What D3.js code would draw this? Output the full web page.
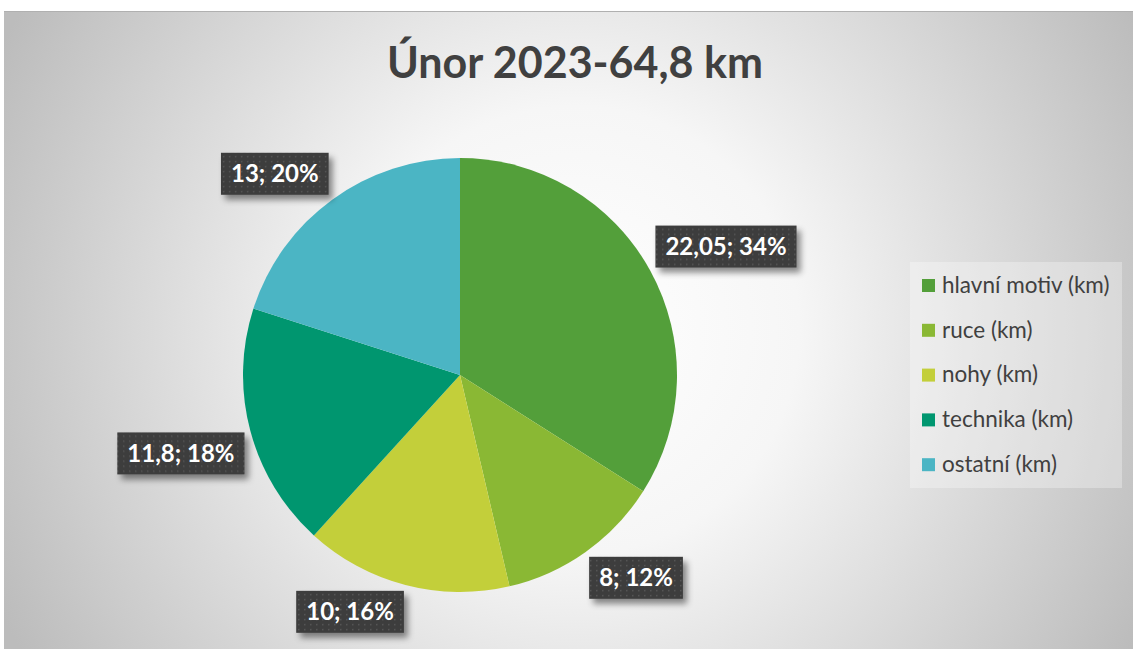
<!DOCTYPE html>
<html>
<head>
<meta charset="utf-8">
<script src="https://cdn.jsdelivr.net/npm/d3@7"></script>
<style>
  html, body { margin: 0; padding: 0; background: #fff; }
  svg { display: block; }
</style>
</head>
<body>
<svg id="chart" width="1133" height="649"></svg>
<script>
// data
const categories = ["hlavní motiv (km)", "ruce (km)", "nohy (km)", "technika (km)", "ostatní (km)"];
const values = [22.05, 8, 10, 11.8, 13];
const valueLabels = ["22,05", "8", "10", "11,8", "13"];
const percentLabels = ["34%", "12%", "16%", "18%", "20%"];
const colors = ["#539f3a", "#8ab834", "#c3cf3a", "#00966f", "#4bb5c4"];
const title = "Únor 2023-64,8 km";

const svg = d3.select("#chart");
const width = 1133, height = 649;
const font = "Lato, 'Open Sans', sans-serif";

const defs = svg.append("defs");
const bg = defs.append("radialGradient").attr("id", "bg")
  .attr("gradientUnits", "userSpaceOnUse")
  .attr("cx", 575).attr("cy", 330).attr("r", 640);
bg.append("stop").attr("offset", "0%").attr("stop-color", "#ffffff");
bg.append("stop").attr("offset", "35%").attr("stop-color", "#f6f6f6");
bg.append("stop").attr("offset", "100%").attr("stop-color", "#bcbcbc");

const pat = defs.append("pattern").attr("id", "dots")
  .attr("patternUnits", "userSpaceOnUse").attr("width", 6).attr("height", 5);
pat.append("rect").attr("width", 6).attr("height", 5).attr("fill", "#3c3c3c");
pat.append("rect").attr("x", 2).attr("y", 2).attr("width", 1.5).attr("height", 1.5).attr("fill", "#575757");

const sh = defs.append("filter").attr("id", "shadow")
  .attr("x", "-20%").attr("y", "-30%").attr("width", "150%").attr("height", "180%");
sh.append("feDropShadow").attr("dx", 4).attr("dy", 5).attr("stdDeviation", 3)
  .attr("flood-color", "#000").attr("flood-opacity", 0.45);

// plot area
svg.append("rect").attr("x", 4).attr("y", 11).attr("width", width - 4).attr("height", height - 11)
  .attr("fill", "url(#bg)");
svg.append("line").attr("x1", 4).attr("x2", width).attr("y1", 11.5).attr("y2", 11.5)
  .attr("stroke", "#b0b0b0");

svg.append("text").attr("x", 575).attr("y", 78)
  .attr("text-anchor", "middle")
  .attr("font-family", font)
  .attr("font-weight", "bold").attr("font-size", 43)
  .attr("fill", "#404040").text(title);

const cx = 460, cy = 375, r = 217;
const pie = d3.pie().sort(null).value(d => d)(values);
const arc = d3.arc().innerRadius(0).outerRadius(r);

const g = svg.append("g").attr("transform", `translate(${cx},${cy})`);
g.selectAll("path").data(pie).enter().append("path")
  .attr("d", arc)
  .attr("fill", (d, i) => colors[i]);

// labels, outside end: box corner sits just off the rim at mid-angle
const lbl = svg.append("g").selectAll("g").data(pie).enter().append("g");

lbl.each(function (d, i) {
  const el = d3.select(this);
  const t = el.append("text")
    .attr("text-anchor", "middle").attr("dy", "0.36em")
    .attr("font-family", font)
    .attr("font-weight", "bold").attr("font-size", 24)
    .attr("fill", "#fff").text(valueLabels[i] + "; " + percentLabels[i]);
  const bb = t.node().getBBox();
  const hw = bb.width / 2 + 10, hh = 21;
  el.insert("rect", "text")
    .attr("x", -hw).attr("y", -hh).attr("width", hw * 2).attr("height", hh * 2)
    .attr("fill", "url(#dots)").attr("filter", "url(#shadow)");
  const a = (d.startAngle + d.endAngle) / 2;
  const s = Math.sin(a), c = -Math.cos(a);
  const rr = r + 6;
  const x = cx + rr * s + hw * Math.sign(s);
  const y = cy + rr * c + hh * Math.sign(c);
  el.attr("transform", `translate(${x},${y})`);
});

// legend
const lg = svg.append("g");
lg.append("rect").attr("x", 910).attr("y", 262).attr("width", 212).attr("height", 226)
  .attr("fill", "#fff").attr("opacity", 0.3);
const items = lg.selectAll("g").data(categories).enter().append("g")
  .attr("transform", (d, i) => `translate(922,${285 + i * 44.8})`);
items.append("rect").attr("x", 0).attr("y", -6).attr("width", 13).attr("height", 13)
  .attr("fill", (d, i) => colors[i]);
items.append("text").attr("x", 20).attr("dy", "0.35em")
  .attr("font-family", font).attr("font-size", 22.5)
  .attr("fill", "#404040").text(d => d);
</script>
</body>
</html>
